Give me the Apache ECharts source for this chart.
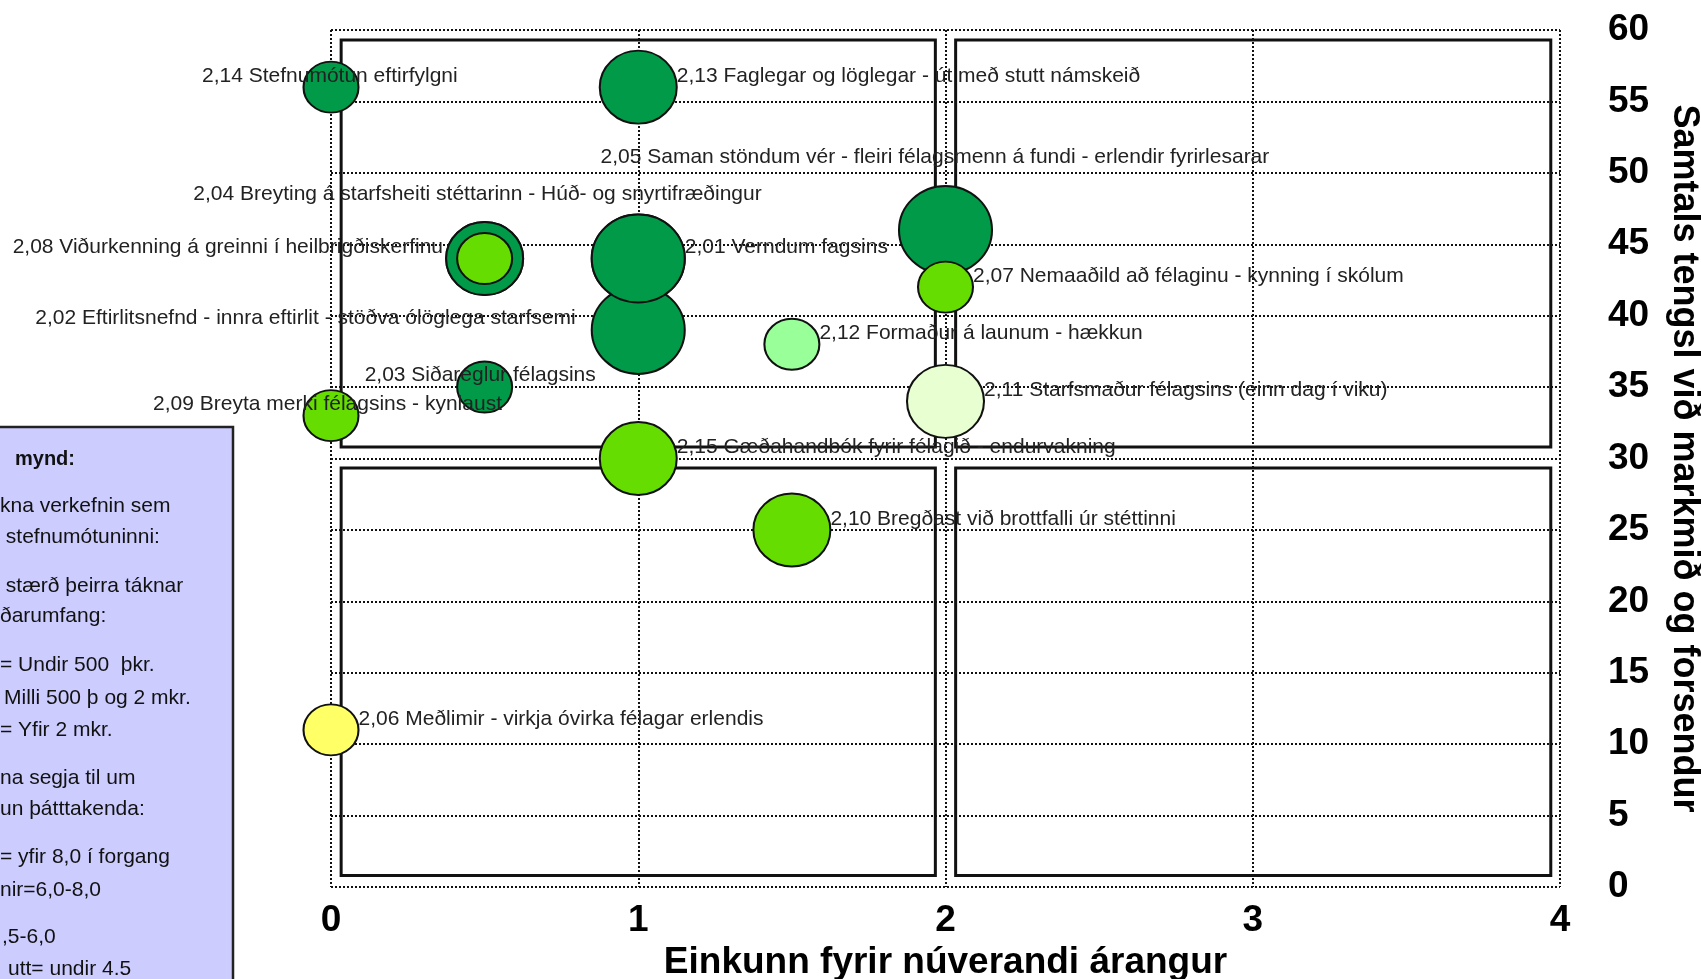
<!DOCTYPE html>
<html><head><meta charset="utf-8">
<script src="https://cdn.jsdelivr.net/npm/echarts@6/dist/echarts.min.js"></script>
<style>html,body{margin:0;padding:0;background:#fff;overflow:hidden}#c{width:1701px;height:979px}</style>
</head><body><div id="c"></div>
<script>
// ---------- data ----------
const taskNames = [
  "2,01 Verndum fagsins",
  "2,02 Eftirlitsnefnd - innra eftirlit - stöðva ólöglega starfsemi",
  "2,03 Siðareglur félagsins",
  "2,04 Breyting á starfsheiti stéttarinn - Húð- og snyrtifræðingur",
  "2,05 Saman stöndum vér - fleiri félagsmenn á fundi - erlendir fyrirlesarar",
  "2,06 Meðlimir - virkja óvirka félagar erlendis",
  "2,07 Nemaaðild að félaginu - kynning í skólum",
  "2,08 Viðurkenning á greinni í heilbrigðiskerfinu",
  "2,09 Breyta merki félagsins - kynlaust",
  "2,10 Bregðast við brottfalli úr stéttinni",
  "2,11 Starfsmaður félagsins (einn dag í viku)",
  "2,12 Formaður á launum - hækkun",
  "2,13 Faglegar og löglegar - út með stutt námskeið",
  "2,14 Stefnumótun eftirfylgni",
  "2,15 Gæðahandbók fyrir félagið - endurvakning"
];
// Einkunn fyrir núverandi árangur (x)
const arangur = [1, 1, 0.5, 1, 2, 0, 2, 0.5, 0, 1.5, 2, 1.5, 1, 0, 1];
// Samtals tengsl við markmið og forsendur (y)
const tengsl  = [44, 39, 35, 44, 46, 11, 42, 44, 33, 25, 34, 38, 56, 56, 30];
// kostnaðarumfang: 1 = undir 500 þkr., 2 = 500 þ - 2 mkr., 3 = yfir 2 mkr.
const kostnadur = [3, 3, 1, 3, 3, 1, 1, 2, 1, 2, 2, 1, 2, 1, 2];
// forgangsflokkur (litur)
const forgangur = [1, 1, 1, 1, 1, 5, 2, 1, 2, 2, 4, 3, 1, 1, 2];
// 2,08 is drawn as a ring: inner bubble class
const ringTaskIndex = 7;
const ringInnerCost = 1;
const ringInnerPriority = 2;

const xTicks = [0, 1, 2, 3, 4];
const yTicks = [0, 5, 10, 15, 20, 25, 30, 35, 40, 45, 50, 55, 60];

const legendLines = [
  "mynd:", "kna verkefnin sem", " stefnumótuninni:", " stærð þeirra táknar", "ðarumfang:",
  "= Undir 500  þkr.", "Milli 500 þ og 2 mkr.", "= Yfir 2 mkr.",
  "na segja til um", "un þátttakenda:",
  "= yfir 8,0 í forgang", "nir=6,0-8,0", ",5-6,0", "utt= undir 4.5"
];

// ---------- styles / layout ----------
const sizeByCost = {1: [55, 51], 2: [77, 73], 3: [93, 88]};
const colorByPriority = {1: '#009a48', 2: '#66dd00', 3: '#99ff99', 4: '#e8ffd2', 5: '#ffff66'};
// label offsets (px from bubble centre to label's left-middle); null = right of bubble
const labelShift = [null, [-603, -12], [-120, -12], [-445, -64], [-345, -73], null, null,
  [-472, -11], [-178, -11], null, null, null, null, [-129, -11], null];
const quadrantBoxes = [
  [0.033, 30.8, 1.967, 59.3], [2.033, 30.8, 3.97, 59.3],
  [0.033, 0.8, 1.967, 29.33], [2.033, 0.8, 3.97, 29.33]
];
const legendLayout = [
  [15, 459, true], [0, 506], [0, 537], [0, 586], [0, 616],
  [0, 665], [4, 698], [0, 730], [0, 778], [0, 809],
  [0, 857], [0, 890], [2, 937], [8, 969]
];
const FONT = 'Liberation Sans, Arial, sans-serif';

function bubble(i, cost, prio, withLabel) {
  const sz = sizeByCost[cost];
  const sh = labelShift[i];
  return {
    name: taskNames[i],
    value: [arangur[i], tengsl[i]],
    symbolSize: sz,
    itemStyle: {color: colorByPriority[prio], borderColor: '#111', borderWidth: 2, opacity: 1},
    label: withLabel ? {
      show: true, position: 'inside', align: 'left', verticalAlign: 'middle',
      offset: sh ? sh : [sz[0] / 2, -11],
      formatter: taskNames[i], fontSize: 21, fontFamily: FONT, color: '#222'
    } : {show: false}
  };
}

const mainData = taskNames.map((n, i) => bubble(i, kostnadur[i], forgangur[i], true));
const ringData = [
  bubble(ringTaskIndex, kostnadur[ringTaskIndex], forgangur[ringTaskIndex], false),
  bubble(ringTaskIndex, ringInnerCost, ringInnerPriority, false)
];

const chart = echarts.init(document.getElementById('c'), null, {renderer: 'canvas'});
const gridLine = {show: true, lineStyle: {type: 'dotted', color: '#111', width: 2}};

chart.setOption({
  animation: false,
  backgroundColor: '#fff',
  grid: {left: 331, right: 141, top: 30, bottom: 92, containLabel: false, outerBoundsMode: 'none'},
  xAxis: {
    type: 'value', min: xTicks[0], max: xTicks[xTicks.length - 1], interval: 1,
    axisLine: {show: false}, axisTick: {show: false}, splitLine: gridLine,
    axisLabel: {margin: 15, fontSize: 37, fontWeight: 'bold', color: '#000', fontFamily: FONT},
    name: 'Einkunn fyrir núverandi árangur', nameLocation: 'middle', nameGap: 56,
    nameTextStyle: {fontSize: 37, fontWeight: 'bold', color: '#000', fontFamily: FONT}
  },
  yAxis: {
    type: 'value', position: 'right', min: yTicks[0], max: yTicks[yTicks.length - 1], interval: 5,
    axisLine: {show: false}, axisTick: {show: false}, splitLine: gridLine,
    axisLabel: {margin: 48, align: 'left', fontSize: 37, fontWeight: 'bold', color: '#000', fontFamily: FONT},
    name: 'Samtals tengsl við markmið og forsendur', nameLocation: 'middle', nameRotate: -90, nameGap: 106,
    nameTextStyle: {fontSize: 36, fontWeight: 'bold', color: '#000', fontFamily: FONT}
  },
  series: [
    {
      type: 'line', data: [], z: 1, silent: true,
      markArea: {
        silent: true,
        itemStyle: {color: 'rgba(0,0,0,0)', borderColor: '#111', borderWidth: 3},
        data: quadrantBoxes.map(b => [{coord: [b[0], b[3]]}, {coord: [b[2], b[1]]}])
      }
    },
    {type: 'scatter', z: 2, data: mainData, itemStyle: {opacity: 1}},
    {type: 'scatter', z: 3, data: ringData, itemStyle: {opacity: 1}}
  ],
  graphic: [
    {type: 'rect', z: 10, shape: {x: -5, y: 427, width: 238, height: 600},
     style: {fill: '#ccccff', stroke: '#222', lineWidth: 2.5}}
  ].concat(legendLines.map((t, i) => ({
    type: 'text', z: 11, x: legendLayout[i][0], y: legendLayout[i][1],
    style: {text: t, fontSize: legendLayout[i][2] ? 20 : 21, fontWeight: legendLayout[i][2] ? 'bold' : 'normal',
      fontFamily: FONT, fill: '#111', verticalAlign: 'middle', align: 'left'}
  })))
});
</script></body></html>
